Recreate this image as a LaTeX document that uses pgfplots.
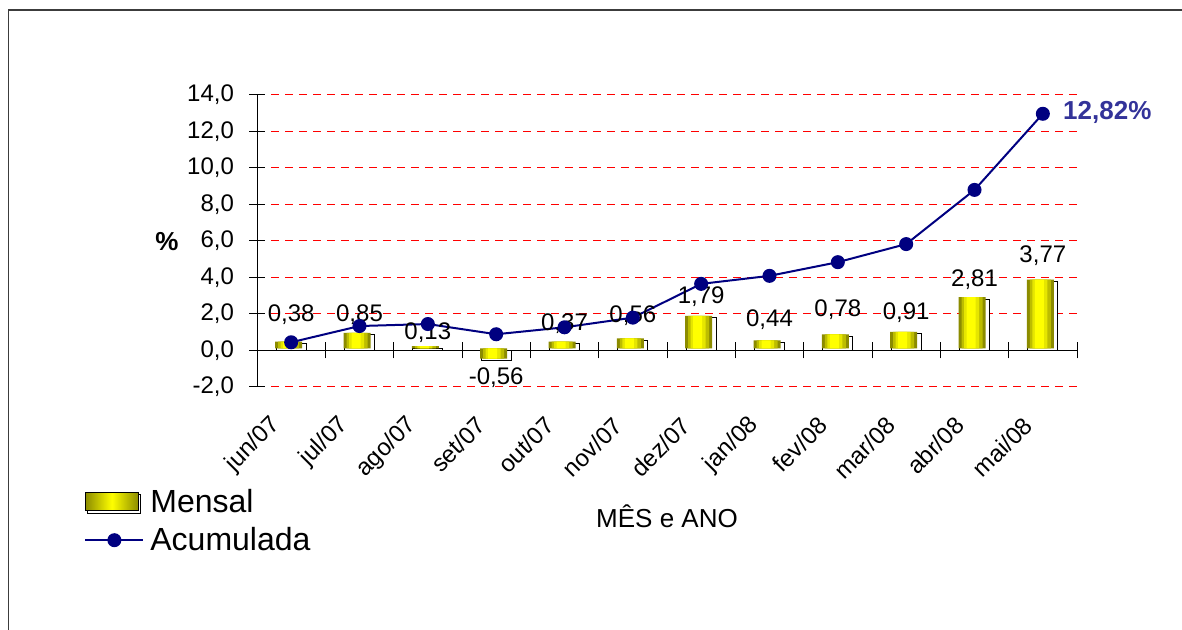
\documentclass[border=0pt]{standalone}
\usepackage{pgfplots}
\pgfplotsset{compat=1.18}
\usepackage{pgfplotstable}
\usepackage{fontspec}
\setmainfont{Liberation Sans}
\definecolor{navyline}{HTML}{000080}
\definecolor{labblue}{HTML}{333399}
\definecolor{barA}{HTML}{8C8C00}
\definecolor{barB}{HTML}{BDBD00}
\definecolor{barC}{HTML}{E6E600}
\definecolor{barD}{HTML}{FFFF00}
\definecolor{framegray}{HTML}{3C3C3C}

\pgfplotstableread{
x y dy lab
0 0.38 11 0,38
1 0.85 6.75 0,85
2 0.13 4.3 0,13
3 -0.56 -12 -0,56
4 0.37 6.5 0,37
5 0.56 8.8 0,56
6 1.79 7 1,79
7 0.44 8 0,44
8 0.78 10 0,78
9 0.91 7 0,91
10 2.81 6.5 2,81
11 3.77 9.5 3,77
}\mensal

\pgfplotstableread{
x y
0 0.45
1 1.34
2 1.45
3 0.89
4 1.27
5 1.80
6 3.65
7 4.09
8 4.84
9 5.83
10 8.80
11 12.97
}\acum

\begin{document}
\begin{tikzpicture}
\path[use as bounding box] (0,0) rectangle (591pt,315pt);
\draw[framegray, line width=0.9pt] (4.25pt,-2pt) -- (4.25pt,310pt) -- (593pt,310pt);
\begin{axis}[
  at={(128.5pt,121.5pt)}, anchor=south west,
  scale only axis, width=410pt, height=146pt,
  xmin=-0.5, xmax=11.5, ymin=-2, ymax=14,
  axis x line=middle, axis y line=left,
  axis line style={-, black, line width=0.5pt},
  hide obscured x ticks=false, hide obscured y ticks=false,
  ytick={-2,0,2,4,6,8,10,12,14},
  yticklabel style={font=\fontsize{12}{14}\selectfont, anchor=east, xshift=-4pt,
    /pgf/number format/.cd, fixed, fixed zerofill, precision=1, use comma, assume math mode=true},
  xtick={0,...,11},
  xticklabels={jun/07,jul/07,ago/07,set/07,out/07,nov/07,dez/07,jan/08,fev/08,mar/08,abr/08,mai/08},
  xticklabel style={font=\fontsize{12}{14}\selectfont, xshift=-5pt, yshift=-29pt, rotate=45, anchor=east},
  minor xtick={0.5,1.5,...,11.5},
  tick align=center, major tick length=8pt, minor tick length=8pt,
  every major x tick/.append style={draw=none},
  every minor x tick/.append style={black, line width=0.5pt},
  every y tick/.append style={black, line width=0.5pt},
  ymajorgrids,
  y grid style={red, dash pattern=on 4pt off 3pt, line width=0.5pt},
  every axis x label/.style={at={(axis description cs:0.5,-0.4795)}, anchor=base, font=\fontsize{13}{15}\selectfont},
  xlabel={MÊS e ANO},
  every axis y label/.style={at={(axis description cs:-0.1098,0.469)}, anchor=base, font=\bfseries\fontsize{13}{15}\selectfont},
  ylabel={\%},
  legend style={at={(axis description cs:-0.211,-0.334)}, anchor=north west, draw=none, fill=none,
    font=\fontsize{16}{19}\selectfont, inner sep=0pt, row sep=2pt, column sep=1pt},
  legend cell align=left,
  clip=false,
]
\addlegendimage{legend image code/.code={
  \draw[black, fill=white, line width=0.5pt] (0.9pt,-5.5pt) rectangle (27.8pt,3.6pt);
  \path[left color=barA, right color=barA, middle color=barD] (0pt,-4.3pt) rectangle (26.5pt,4.7pt);
}}
\addlegendentry{Mensal}
% shadow outline of the bars
\addplot[ybar, bar width=15pt, bar shift=0pt, draw=black, fill=white, line width=0.5pt, forget plot]
  table[x=x,y=y]{\mensal};
% bar bodies: layered fills imitating the cylinder shading
\addplot[ybar, bar width=13.5pt, bar shift=-1.25pt, yshift=1pt, draw=none, fill=barA, forget plot]
  table[x=x,y=y]{\mensal};
\addplot[ybar, bar width=10.5pt, bar shift=-1.25pt, yshift=1pt, draw=none, fill=barB, forget plot]
  table[x=x,y=y]{\mensal};
\addplot[ybar, bar width=7.5pt, bar shift=-1.5pt, yshift=1pt, draw=none, fill=barC, forget plot]
  table[x=x,y=y]{\mensal};
\addplot[ybar, bar width=4.5pt, bar shift=-1.75pt, yshift=1pt, draw=none, fill=barD, forget plot]
  table[x=x,y=y]{\mensal};
% value labels
\addplot[ybar, bar width=15pt, bar shift=0pt, draw=none, fill=none, forget plot,
  nodes near coords, point meta=explicit symbolic,
  visualization depends on={\thisrow{dy} \as \dy},
  nodes near coords style={anchor=base, yshift=\dy pt, black, font=\fontsize{12}{14}\selectfont, inner sep=0pt}]
  table[x=x,y=y,meta=lab]{\mensal};
% cumulative line
\addplot[navyline, line width=1pt, mark=*, mark size=3pt, mark options={fill=navyline, draw=navyline},
  legend image code/.code={\draw[mark repeat=2,mark phase=2] plot coordinates {(0pt,0pt) (14.5pt,0pt) (29pt,0pt)};}]
  table[x=x,y=y]{\acum};
\addlegendentry{Acumulada}
\node[anchor=base west, inner sep=0pt, text=labblue, font=\bfseries\fontsize{13}{15}\selectfont, xshift=10pt, yshift=-3pt]
  at (axis cs:11,12.97) {12,82\%};
\end{axis}
\end{tikzpicture}
\end{document}
